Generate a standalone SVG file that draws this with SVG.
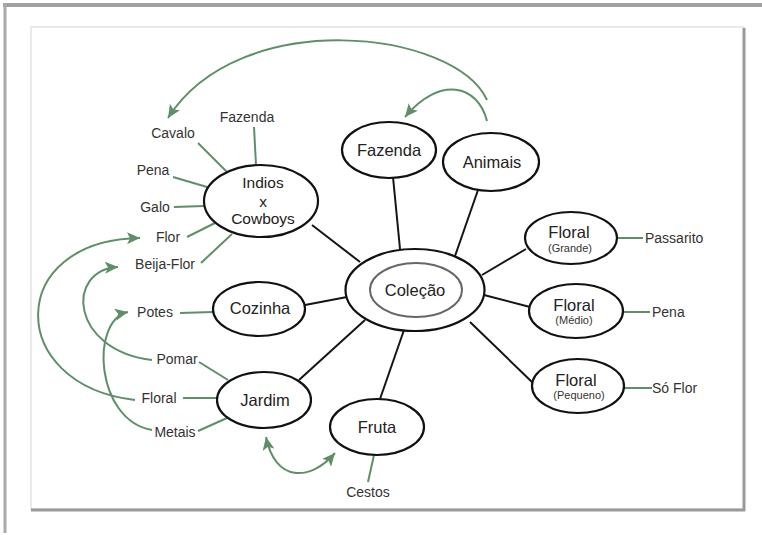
<svg xmlns="http://www.w3.org/2000/svg" width="762" height="535" viewBox="0 0 762 535">
<style>
.node{fill:#fff;stroke:#111;stroke-width:2.2}
.inner{fill:none;stroke:#666;stroke-width:2}
.blk{stroke:#151515;stroke-width:2;fill:none}
.grn{stroke:#5f8f68;stroke-width:2;fill:none}
.arr{stroke:#5f8f68;stroke-width:2;fill:none;marker-end:url(#ah)}
.lbl{font-family:"Liberation Sans",Arial,sans-serif;font-size:14px;fill:#333;text-anchor:middle}
.lbl.s{text-anchor:start}
.nt{font-family:"Liberation Sans",Arial,sans-serif;font-size:16.5px;fill:#222;text-anchor:middle}
.sub{font-family:"Liberation Sans",Arial,sans-serif;font-size:11px;fill:#333;text-anchor:middle}
</style>
<defs>
<marker id="ah" markerUnits="userSpaceOnUse" markerWidth="14" markerHeight="12" refX="13" refY="6" orient="auto-start-reverse">
<path d="M0,0 L13,6 L0,12 L3,6 Z" fill="#5f8f68"/>
</marker>
</defs>
<rect width="762" height="535" fill="#fff"/>
<g id="frame">
<line x1="3" y1="5" x2="762" y2="5" stroke="#a0a0a0" stroke-width="4"/>
<line x1="5" y1="3" x2="5" y2="533" stroke="#aaa" stroke-width="3"/>
<rect x="31" y="27" width="713" height="482" fill="#fff" stroke="#e4e4e4" stroke-width="1.5"/>
<line x1="744" y1="28" x2="744" y2="511" stroke="#999" stroke-width="3"/>
<line x1="31" y1="510" x2="745" y2="510" stroke="#999" stroke-width="3"/>
</g>
<g id="connectors">
<line class="blk" x1="312" y1="225" x2="360" y2="262"/>
<line class="blk" x1="393" y1="177" x2="400" y2="249"/>
<line class="blk" x1="478" y1="190" x2="455" y2="256"/>
<line class="blk" x1="482" y1="275" x2="526" y2="249"/>
<line class="blk" x1="484" y1="295" x2="530" y2="307"/>
<line class="blk" x1="470" y1="322" x2="533" y2="383"/>
<line class="blk" x1="404" y1="330" x2="380" y2="399"/>
<line class="blk" x1="365" y1="320" x2="299" y2="380"/>
<line class="blk" x1="305" y1="305" x2="347" y2="297"/>
<line class="grn" x1="254" y1="127" x2="256" y2="165"/>
<line class="grn" x1="198" y1="143" x2="227" y2="172"/>
<line class="grn" x1="173" y1="177" x2="207" y2="187"/>
<line class="grn" x1="174" y1="207" x2="204" y2="206"/>
<line class="grn" x1="187" y1="237" x2="215" y2="223"/>
<line class="grn" x1="201" y1="263" x2="232" y2="234"/>
<line class="grn" x1="180" y1="313" x2="213" y2="312"/>
<line class="grn" x1="199" y1="362" x2="228" y2="380"/>
<line class="grn" x1="183" y1="398" x2="217" y2="398"/>
<line class="grn" x1="198" y1="431" x2="227" y2="418"/>
<line class="grn" x1="374" y1="455" x2="368" y2="482"/>
<line class="grn" x1="617" y1="238" x2="643" y2="238"/>
<line class="grn" x1="623" y1="312" x2="650" y2="312"/>
<line class="grn" x1="624" y1="388" x2="652" y2="388"/>
<path class="arr" d="M487,100 C455,30 240,5 168,118"/>
<path class="arr" d="M487,121 C478,85 440,75 405,117"/>
<path class="arr" d="M135,400 C5,385 5,240 140,238"/>
<path class="arr" d="M152,360 C70,350 65,270 118,267"/>
<path class="arr" d="M152,430 C95,420 90,320 128,312"/>
<path class="arr" d="M266,437 C275,482 310,482 335,453" marker-start="url(#ah)"/>
</g>
<g id="labels">
<text class="lbl" x="247" y="122">Fazenda</text>
<text class="lbl" x="173" y="138">Cavalo</text>
<text class="lbl" x="153" y="175">Pena</text>
<text class="lbl" x="155" y="212">Galo</text>
<text class="lbl" x="168" y="242">Flor</text>
<text class="lbl" x="165" y="269">Beija-Flor</text>
<text class="lbl" x="155" y="317">Potes</text>
<text class="lbl" x="177" y="364">Pomar</text>
<text class="lbl" x="159" y="403">Floral</text>
<text class="lbl" x="175" y="437">Metais</text>
<text class="lbl" x="368" y="497">Cestos</text>
<text class="lbl s" x="645" y="243">Passarito</text>
<text class="lbl s" x="652" y="317">Pena</text>
<text class="lbl s" x="652" y="393">Só Flor</text>
</g>
<g id="n-indios">
<ellipse class="node" cx="261" cy="201" rx="57" ry="36"/>
<text class="nt" style="font-size:15.5px" x="263" y="188">Indios</text>
<text class="nt" style="font-size:15.5px" x="263" y="207">x</text>
<text class="nt" style="font-size:15.5px" x="263" y="224">Cowboys</text>
</g>
<g id="n-fazenda">
<ellipse class="node" cx="389" cy="150" rx="47" ry="28"/>
<text class="nt" x="389" y="156">Fazenda</text>
</g>
<g id="n-animais">
<ellipse class="node" cx="491" cy="162" rx="48" ry="29"/>
<text class="nt" x="492" y="168">Animais</text>
</g>
<g id="n-colecao">
<ellipse class="node" cx="415" cy="290" rx="69.5" ry="41"/>
<ellipse class="inner" cx="416" cy="290" rx="46" ry="27"/>
<text class="nt" x="415" y="296">Coleção</text>
</g>
<g id="n-cozinha">
<ellipse class="node" cx="259" cy="309" rx="46" ry="27"/>
<text class="nt" x="260" y="314">Cozinha</text>
</g>
<g id="n-jardim">
<ellipse class="node" cx="264" cy="400" rx="47" ry="28"/>
<text class="nt" x="265" y="406">Jardim</text>
</g>
<g id="n-fruta">
<ellipse class="node" cx="377" cy="427" rx="47" ry="28"/>
<text class="nt" x="377" y="433">Fruta</text>
</g>
<g id="n-floral-grande">
<ellipse class="node" cx="571" cy="238" rx="46" ry="26"/>
<text class="nt" x="569" y="238">Floral</text>
<text class="sub" x="570" y="252">(Grande)</text>
</g>
<g id="n-floral-medio">
<ellipse class="node" cx="576" cy="311" rx="47" ry="27"/>
<text class="nt" x="574" y="311">Floral</text>
<text class="sub" x="574" y="324">(Médio)</text>
</g>
<g id="n-floral-pequeno">
<ellipse class="node" cx="578" cy="386" rx="46" ry="27"/>
<text class="nt" x="576" y="386">Floral</text>
<text class="sub" x="579" y="399">(Pequeno)</text>
</g>
</svg>
